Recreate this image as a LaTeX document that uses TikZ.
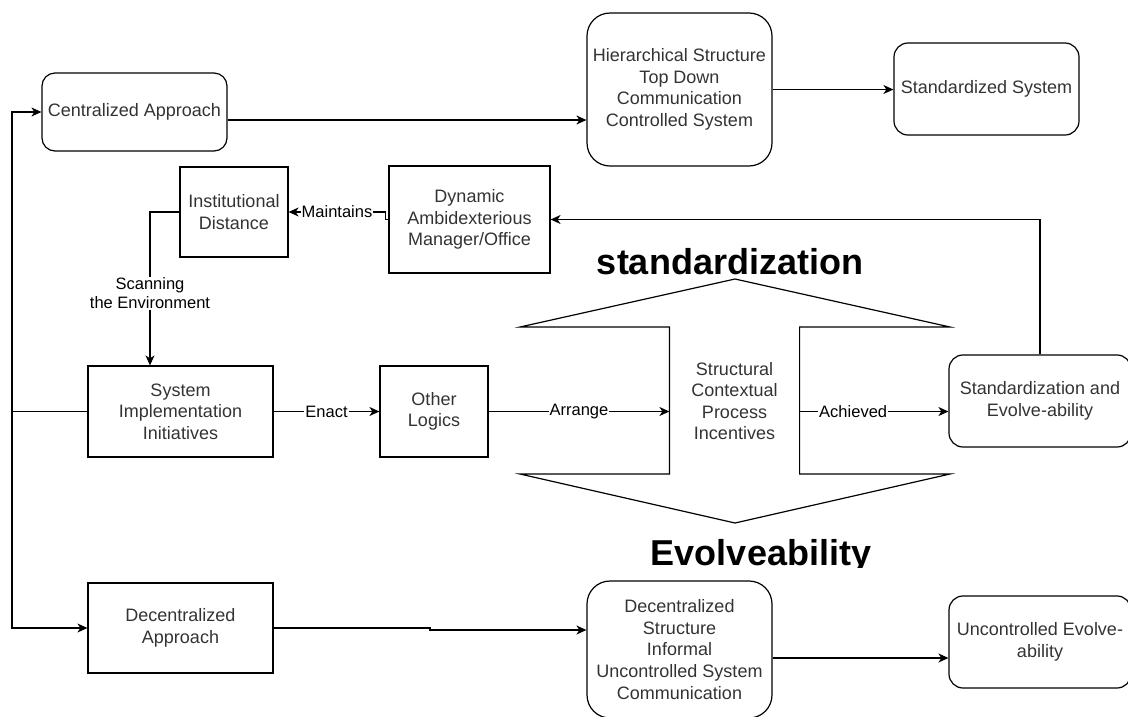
\documentclass[tikz,border=0pt]{standalone}
\usepackage{fontspec}
\setmainfont{Liberation Sans}
\usetikzlibrary{arrows.meta,calc}
\definecolor{ink}{HTML}{333333}
\tikzset{
  box/.style={draw, line width=1.2pt, align=center, inner sep=0pt, text=ink,
    font=\fontsize{18}{21.6}\selectfont},
  rbox/.style={box, rounded corners=#1},
  link/.style={line width=1.2pt},
  arr/.style={line width=1.2pt, -{Stealth[length=10pt,width=9pt,inset=3pt]}},
  elabel/.style={fill=white, inner sep=1pt, text=black, align=center,
    font=\fontsize{16.5}{19.5}\selectfont},
  heading/.style={inner sep=0pt, font=\fontsize{36}{40}\selectfont\bfseries}
}
\begin{document}
\begin{tikzpicture}[x=1pt,y=-1pt]
\useasboundingbox (0,0) rectangle (1128,716);

% boxes
\node[rbox=13pt, minimum width=185pt, minimum height=78pt] (cent) at (134.5,112) {Centralized Approach};
\node[rbox=23pt, minimum width=185pt, minimum height=153pt] (hier) at (679.5,89.5)
  {Hierarchical Structure\\Top Down\\Communication\\Controlled System};
\node[rbox=14pt, minimum width=185pt, minimum height=92pt] (stdsys) at (986.5,89) {Standardized System};
\node[box, minimum width=108pt, minimum height=90pt] (inst) at (234,212) {Institutional\\Distance};
\node[box, minimum width=161pt, minimum height=107pt] (dyn) at (469.5,219.5)
  {Dynamic\\Ambidexterious\\Manager/Office};
\node[box, minimum width=185pt, minimum height=91pt] (sii) at (180.5,411.5)
  {System\\Implementation\\Initiatives};
\node[box, minimum width=108pt, minimum height=91pt] (other) at (434,411.5) {Other\\Logics};
\node[box, draw=none, minimum width=129pt, minimum height=147pt] (dbl) at (734.5,401)
  {Structural\\Contextual\\Process\\Incentives};
\node[rbox=14pt, minimum width=182pt, minimum height=92pt] (sea) at (1040,401)
  {Standardization and\\Evolve-ability};
\node[box, minimum width=185pt, minimum height=90pt] (dec) at (180.5,628) {Decentralized\\Approach};
\node[rbox=23pt, minimum width=185pt, minimum height=137pt] (dst) at (679.5,649.5)
  {Decentralized\\Structure\\Informal\\Uncontrolled System\\Communication};
\node[rbox=14pt, minimum width=182pt, minimum height=92pt] (uce) at (1040,642)
  {Uncontrolled Evolve-\\ability};

% vertical double arrow around the central text
\draw[link] (520,327) -- (735,279) -- (950,327) -- (dbl.east |- 0,327) -- (dbl.east |- 0,474)
  -- (950,474) -- (735,523) -- (520,474) -- (dbl.west |- 0,474) -- (dbl.west |- 0,327) -- cycle;

% headings
\node[heading, anchor=base] (hStd) at (730,274) {standardization};
\begin{scope}
  \clip (600,520) rectangle (900,567);
  \node[heading, anchor=base] (hEvo) at (761,565) {Evolveability};
\end{scope}

% top row
\coordinate (c1) at ([yshift=-8pt]cent.east);
\draw[arr] (c1) -- (c1 -| hier.west);
\draw[arr] (hier.east) -- (hier.east -| stdsys.west);

% feedback to the manager
\draw[arr] (sea.north) |- (dyn.east);
\coordinate (m1) at ([xshift=-3pt]dyn.west);
\draw[arr] (dyn.west) -- (m1) |- (inst.east);
\node[elabel] (lblMaint) at ($(inst.east)!0.5!(m1 |- inst.east)$) {Maintains};

% scanning
\coordinate (s1) at (150,212);
\draw[arr] (inst.west) -- (s1) -- (s1 |- sii.north);
\node[elabel] (lblScan) at ($(s1)!0.53!(s1 |- sii.north)$) {Scanning\\the Environment};

% middle row
\draw[arr] (sii.east) -- (other.west) node[elabel, midway] (lblEnact) {Enact};
\draw[arr] (other.east) -- (other.east -| dbl.west) node[elabel, midway] (lblArr) {Arrange};
\draw[arr] (other.east -| dbl.east) -- (other.east -| sea.west) node[elabel, pos=0.36] (lblAch) {Achieved};

% left bus
\coordinate (bus) at (12,411.5);
\draw[link] (sii.west) -- (bus);
\draw[arr] (bus) |- (cent.west);
\draw[arr] (bus) |- (dec.west);

% bottom row
\coordinate (j1) at (430,628);
\coordinate (j2) at (430,630);
\draw[arr] (dec.east) -- (j1) -- (j2) -- (j2 -| dst.west);
\coordinate (d1) at ([yshift=-8.5pt]dst.east);
\draw[arr] (d1) -- (d1 -| uce.west);
\end{tikzpicture}
\end{document}
